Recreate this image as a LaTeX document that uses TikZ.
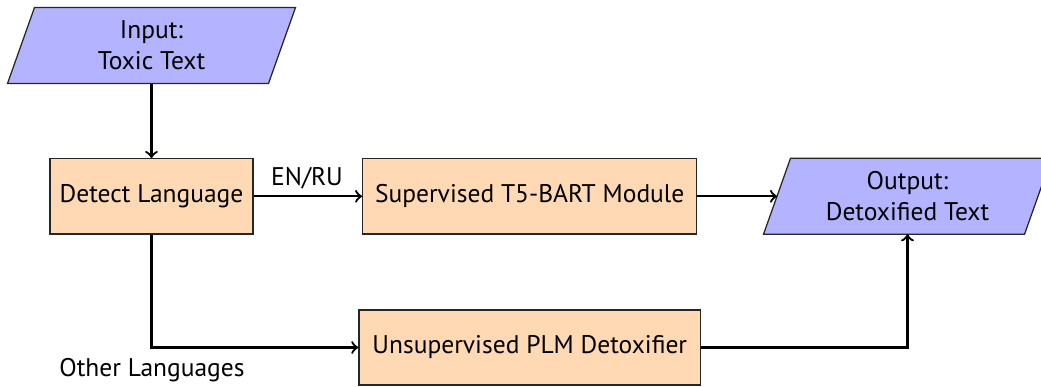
\documentclass[tikz,border=0pt]{standalone}
\usepackage{fontspec}
\setmainfont{PT Sans}
\usetikzlibrary{backgrounds}
\definecolor{ioblue}{HTML}{B3B3FF}
\definecolor{procorange}{HTML}{FFD9B3}
\tikzset{
  procbox/.style={rectangle, draw=black!85, line width=0.5pt, fill=procorange,
    minimum height=30.1pt, inner sep=0pt, font=\fontsize{10.2}{12.4}\selectfont},
  iobox/.style={rectangle, minimum width=104pt, minimum height=30pt, inner sep=0pt,
    align=center, font=\fontsize{10.2}{12.4}\selectfont},
  para/.style={draw=black!85, line width=0.5pt, fill=ioblue},
  flow/.style={draw, line width=0.9pt, ->},
  lbl/.style={font=\fontsize{10.2}{12}\selectfont, inner sep=0pt, anchor=base}
}
\begin{document}
\begin{tikzpicture}[x=0.4pt, y=-0.4pt]
  \useasboundingbox (0,0) rectangle (1041,387);

  % input / output (parallelogram outlines drawn behind)
  \node[iobox] (in)  at (151.5,45.5)  {Input:\\Toxic Text};
  \node[iobox] (out) at (907.5,196.3) {Output:\\Detoxified Text};
  \begin{scope}[on background layer]
    \path[para] ([xshift=-5.4pt]in.south west) -- ([xshift=5.4pt]in.north west)
      -- ([xshift=5.4pt]in.north east) -- ([xshift=-5.4pt]in.south east) -- cycle;
    \path[para] ([xshift=-5.4pt]out.south west) -- ([xshift=5.4pt]out.north west)
      -- ([xshift=5.4pt]out.north east) -- ([xshift=-5.4pt]out.south east) -- cycle;
  \end{scope}

  % processing steps
  \node[procbox, minimum width=81.2pt]  (det) at (151.5,196.3) {Detect Language};
  \node[procbox, minimum width=133.6pt] (sup) at (529.7,196.3) {Supervised T5-BART Module};
  \node[procbox, minimum width=136.7pt, minimum height=30pt] (uns) at (529.8,347.5) {Unsupervised PLM Detoxifier};

  % connectors
  \draw[flow] (in.south) -- (det.north);
  \draw[flow] (det.east) -- (sup.west);
  \draw[flow] (sup.east) -- (out.west);
  \draw[flow] (det.south) |- (uns.west);
  \draw[flow] (uns.east) -| (out.south);

  % branch labels
  \node[lbl] (enru)  at (307,185) {EN/RU};
  \node[lbl] (other) at (152,376) {Other Languages};
\end{tikzpicture}
\end{document}
